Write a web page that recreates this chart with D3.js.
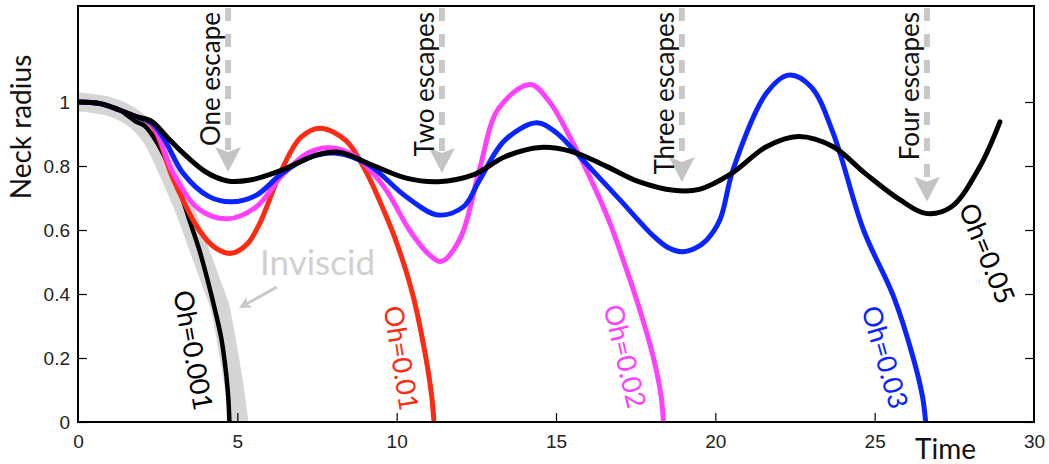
<!DOCTYPE html>
<html><head><meta charset="utf-8">
<script src="https://cdn.jsdelivr.net/npm/d3@7"></script>
<style>
html,body{margin:0;padding:0;background:#fff;}
svg{display:block;}
</style>
</head><body>
<svg id="chart" width="1049" height="464"></svg>
<script>
// ---- data ----
const xTicks = [0, 5, 10, 15, 20, 25, 30];
const yTicks = [0, 0.2, 0.4, 0.6, 0.8, 1];

// [time, neck radius]
const inviscid = [[0,1.0],[1,0.985],[1.8,0.945],[2.3,0.89],[2.8,0.79],[3.3,0.675],[3.8,0.54],[4.2,0.43],[4.45,0.36],[4.7,0.23],[4.9,0.11],[5.05,0.0]];
const oh0001 = [[0,1.0],[0.7,0.995],[1.3,0.975],[1.8,0.94],[2.1,0.925],[2.5,0.87],[2.9,0.79],[3.2,0.72],[3.5,0.63],[3.8,0.54],[4.05,0.45],[4.3,0.35],[4.5,0.26],[4.65,0.15],[4.72,0.07],[4.75,0.0]];
const oh001 = [[0,1.0],[0.7,0.995],[1.3,0.975],[1.8,0.955],[2.3,0.93],[3.0,0.756],[3.8,0.6],[4.3,0.545],[4.8,0.527],[5.3,0.555],[5.7,0.62],[6.4,0.79],[7.0,0.89],[7.6,0.918],[8.4,0.88],[9.0,0.79],[9.6,0.66],[10.0,0.56],[10.5,0.40],[10.9,0.21],[11.1,0.08],[11.17,0.0]];
const oh002 = [[0,1.0],[0.7,0.995],[1.3,0.975],[1.8,0.955],[2.3,0.935],[3.0,0.775],[3.8,0.665],[4.7,0.635],[5.6,0.673],[6.4,0.77],[7.2,0.84],[7.9,0.857],[8.7,0.83],[9.6,0.735],[10.4,0.60],[11.0,0.525],[11.4,0.502],[12.0,0.575],[12.6,0.79],[13.2,0.98],[14.2,1.055],[14.8,1.0],[15.44,0.89],[16.27,0.72],[16.7,0.62],[17.2,0.48],[17.6,0.36],[18.05,0.204],[18.3,0.08],[18.37,0.0]];
const oh003 = [[0,1.0],[0.7,0.995],[1.3,0.975],[1.8,0.955],[2.3,0.935],[2.7,0.885],[3.3,0.777],[4.1,0.705],[4.8,0.688],[5.6,0.709],[6.4,0.777],[7.2,0.824],[8.1,0.84],[9.1,0.805],[10.3,0.704],[11.3,0.647],[12.1,0.673],[12.6,0.756],[13.4,0.881],[14.4,0.935],[15.0,0.905],[15.75,0.829],[16.4,0.759],[17.0,0.695],[18.05,0.582],[18.5,0.546],[18.94,0.532],[19.35,0.542],[19.73,0.569],[20.14,0.631],[20.56,0.79],[21.6,1.027],[22.3,1.084],[23.0,1.048],[23.7,0.902],[24.65,0.60],[25.6,0.39],[26.2,0.204],[26.5,0.08],[26.6,0.0]];
const oh005 = [[0,1.0],[0.7,0.995],[1.3,0.975],[1.8,0.955],[2.3,0.94],[2.8,0.89],[3.3,0.84],[4.0,0.782],[4.7,0.753],[5.4,0.756],[6.4,0.787],[7.5,0.835],[8.2,0.843],[9.3,0.80],[10.3,0.762],[11.3,0.751],[12.4,0.772],[13.4,0.829],[14.5,0.858],[15.5,0.845],[16.6,0.798],[17.6,0.751],[18.7,0.724],[19.5,0.727],[20.5,0.776],[21.6,0.86],[22.6,0.892],[23.7,0.86],[24.7,0.777],[25.8,0.694],[26.6,0.652],[27.4,0.672],[28.3,0.798],[28.93,0.938]];

const seriesNames = ["Oh=0.01", "Oh=0.02", "Oh=0.03", "Oh=0.05"];
const seriesData = [oh001, oh002, oh003, oh005];
const seriesColors = ["#ff2a14", "#ff40ff", "#0a24ff", "#000000"];

// label placement: [time, radius, angle]
const ohLabelNames = ["Oh=0.001", "Oh=0.01", "Oh=0.02", "Oh=0.03", "Oh=0.05"];
const ohLabelPos = [[3.64,0.225,80],[10.17,0.2,81],[17.19,0.206,76.5],[25.35,0.203,74],[28.55,0.528,68]];
const ohLabelColors = ["#000000", "#ff2a14", "#ff40ff", "#0a24ff", "#000000"];

const escapeLabels = ["One escape", "Two escapes", "Three escapes", "Four escapes"];
const escapeTimes = [4.71, 11.42, 18.95, 26.64];
const escapeTips = [0.781, 0.778, 0.75, 0.688];

// ---- drawing ----
const svg = d3.select("#chart");
const x = d3.scaleLinear().domain([0, 30]).range([78, 1034]);
const y = d3.scaleLinear().domain([0, 1.3]).range([422, 6]);

svg.append("defs").append("clipPath").attr("id", "plotclip")
  .append("rect").attr("x", x(0)).attr("y", y(1.3)).attr("width", x(30) - x(0)).attr("height", y(0) - y(1.3));

const line = d3.line().x(d => x(d[0])).y(d => y(d[1])).curve(d3.curveCatmullRom.alpha(0.5));

const plot = svg.append("g").attr("clip-path", "url(#plotclip)");

// Inviscid band
plot.append("path").datum(inviscid).attr("d", line)
  .attr("fill", "none").attr("stroke", "#d5d5d5").attr("stroke-width", 19)
  .attr("stroke-linejoin", "round").attr("stroke-linecap", "butt");

// Oh=0.001
plot.append("path").datum(oh0001).attr("d", line)
  .attr("fill", "none").attr("stroke", "#000").attr("stroke-width", 4.5)
  .attr("stroke-linejoin", "round");

seriesData.forEach((s, i) => {
  plot.append("path").datum(s).attr("d", line)
    .attr("fill", "none").attr("stroke", seriesColors[i]).attr("stroke-width", 5)
    .attr("stroke-linejoin", "round").attr("stroke-linecap", "round");
});

// escape arrows
escapeTimes.forEach((t, i) => {
  const cx = x(t), tip = y(escapeTips[i]);
  svg.append("line").attr("x1", cx).attr("x2", cx).attr("y1", 8).attr("y2", tip - 22)
    .attr("stroke", "#c8c8c8").attr("stroke-width", 6).attr("stroke-dasharray", "13,13");
  svg.append("path")
    .attr("d", `M${cx},${tip} L${cx - 13},${tip - 25} L${cx},${tip - 20} L${cx + 13},${tip - 25} Z`)
    .attr("fill", "#c4c4c4");
  svg.append("text").text(escapeLabels[i])
    .attr("transform", `translate(${cx - 8},12) rotate(-90)`)
    .attr("text-anchor", "end")
    .attr("font-family", "Lato, 'Open Sans', sans-serif").attr("font-size", 26).attr("fill", "#111");
});

// Inviscid label + arrow
svg.append("text").text("Inviscid")
  .attr("x", x(5.71)).attr("y", y(0.459))
  .attr("font-family", "Lato, 'Open Sans', sans-serif").attr("font-size", 35).attr("fill", "#d0d0d0");
{
  const x1 = x(6.24), y1 = y(0.422), x2 = x(5.05), y2 = y(0.356);
  svg.append("line").attr("x1", x1).attr("y1", y1).attr("x2", x2 + 6).attr("y2", y2 - 3.3)
    .attr("stroke", "#c8c8c8").attr("stroke-width", 3);
  const ang = Math.atan2(y2 - y1, x2 - x1) * 180 / Math.PI;
  svg.append("path").attr("d", "M0,0 L-12,-6 L-9,0 L-12,6 Z")
    .attr("transform", `translate(${x2},${y2}) rotate(${ang})`).attr("fill", "#c8c8c8");
}

// Oh labels
ohLabelNames.forEach((n, i) => {
  const p = ohLabelPos[i];
  svg.append("text").text(n)
    .attr("transform", `translate(${x(p[0])},${y(p[1])}) rotate(${p[2]})`)
    .attr("text-anchor", "middle").attr("dominant-baseline", "central")
    .attr("font-family", "Lato, 'Open Sans', sans-serif").attr("font-size", 27).attr("fill", ohLabelColors[i]);
});

// frame
svg.append("rect").attr("x", x(0)).attr("y", y(1.3)).attr("width", x(30) - x(0)).attr("height", y(0) - y(1.3))
  .attr("fill", "none").attr("stroke", "#000").attr("stroke-width", 2);

// axes (inward ticks)
const fmt = d => (d === 0 || d === 1) ? String(d) : d3.format(".1f")(d);
const xAxis = svg.append("g").attr("transform", `translate(0,${y(0)})`)
  .call(d3.axisBottom(x).tickValues(xTicks).tickSize(-9).tickPadding(13).tickFormat(d3.format("d")));
const yAxis = svg.append("g").attr("transform", `translate(${x(0)},0)`)
  .call(d3.axisLeft(y).tickValues(yTicks).tickSize(-9).tickPadding(8).tickFormat(fmt));
const yAxisR = svg.append("g").attr("transform", `translate(${x(30)},0)`)
  .call(d3.axisRight(y).tickValues(yTicks).tickSize(-9).tickFormat(""));
[xAxis, yAxis, yAxisR].forEach(g => {
  g.select(".domain").remove();
  g.selectAll(".tick line").attr("stroke", "#000").attr("stroke-width", 1.2);
  g.selectAll("text").attr("font-family", "'Liberation Sans', Arial, sans-serif").attr("font-size", 19).attr("fill", "#222");
});
xAxis.selectAll(".tick").filter(d => d === 0 || d === 30).select("line").remove();

// axis titles
svg.append("text").text("Time").attr("x", 915).attr("y", 459)
  .attr("font-family", "Lato, 'Open Sans', sans-serif").attr("font-size", 28).attr("fill", "#111");
svg.append("text").text("Neck radius")
  .attr("transform", `translate(31,127) rotate(-90)`).attr("text-anchor", "middle")
  .attr("font-family", "Lato, 'Open Sans', sans-serif").attr("font-size", 28).attr("fill", "#111");
</script>
</body></html>
